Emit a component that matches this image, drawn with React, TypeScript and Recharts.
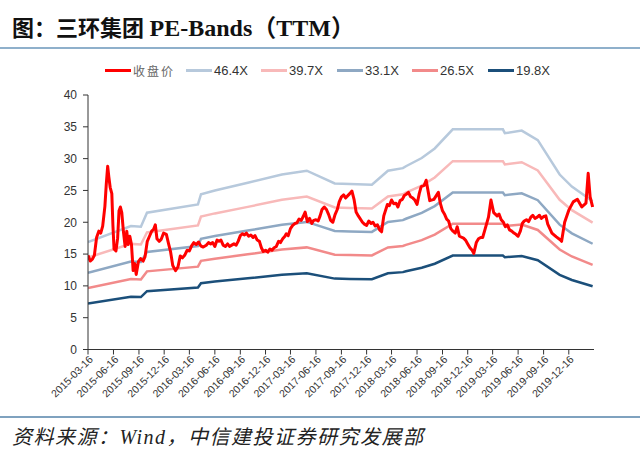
import React from 'react';
import { LineChart, Line, XAxis, YAxis } from 'recharts';

// ---- Data: closing price (收盘价) ----
const closeDates = [
  '2015-03-16','2015-03-24','2015-04-01','2015-04-08','2015-04-16','2015-04-24','2015-05-01','2015-05-08','2015-05-16','2015-05-21',
  '2015-05-26','2015-05-30','2015-06-04','2015-06-10','2015-06-14','2015-06-18','2015-06-25','2015-07-01','2015-07-06','2015-07-11',
  '2015-07-16','2015-07-22','2015-07-28','2015-08-03','2015-08-08','2015-08-14','2015-08-20','2015-08-26','2015-09-01','2015-09-06',
  '2015-09-14','2015-09-22','2015-10-01','2015-10-08','2015-10-16','2015-10-24','2015-11-01','2015-11-08','2015-11-14','2015-11-20',
  '2015-11-28','2015-12-05','2015-12-14','2015-12-24','2016-01-01','2016-01-08','2016-01-16','2016-01-26','2016-02-04','2016-02-12',
  '2016-02-20','2016-02-28','2016-03-08','2016-03-16','2016-03-24','2016-04-01','2016-04-10','2016-04-18','2016-04-26','2016-05-05',
  '2016-05-16','2016-05-24','2016-06-01','2016-06-08','2016-06-16','2016-06-24','2016-07-01','2016-07-08','2016-07-16','2016-07-24',
  '2016-08-01','2016-08-08','2016-08-16','2016-08-24','2016-09-01','2016-09-08','2016-09-16','2016-09-24','2016-10-01','2016-10-08',
  '2016-10-16','2016-10-24','2016-11-01','2016-11-08','2016-11-16','2016-11-24','2016-12-01','2016-12-08','2016-12-16','2016-12-24',
  '2017-01-01','2017-01-08','2017-01-16','2017-01-24','2017-02-01','2017-02-08','2017-02-16','2017-02-24','2017-03-01','2017-03-08',
  '2017-03-16','2017-03-24','2017-04-01','2017-04-08','2017-04-16','2017-04-24','2017-05-01','2017-05-08','2017-05-16','2017-05-24',
  '2017-06-01','2017-06-08','2017-06-16','2017-06-24','2017-07-01','2017-07-08','2017-07-16','2017-07-24','2017-08-01','2017-08-08',
  '2017-08-16','2017-08-24','2017-09-01','2017-09-08','2017-09-16','2017-09-24','2017-10-01','2017-10-16','2017-10-24','2017-11-01',
  '2017-11-08','2017-11-16','2017-12-01','2017-12-08','2017-12-16','2017-12-24','2018-01-01','2018-01-08','2018-01-16','2018-01-24',
  '2018-02-01','2018-02-08','2018-02-16','2018-03-01','2018-03-08','2018-03-16','2018-03-24','2018-04-01','2018-04-08','2018-04-16',
  '2018-04-24','2018-05-01','2018-05-08','2018-05-16','2018-05-24','2018-06-01','2018-06-08','2018-06-16','2018-06-24','2018-07-01',
  '2018-07-12','2018-07-19','2018-08-01','2018-08-16','2018-09-01','2018-09-08','2018-09-16','2018-09-24','2018-10-01','2018-10-08',
  '2018-10-16','2018-10-24','2018-11-01','2018-11-08','2018-11-16','2018-12-01','2018-12-08','2018-12-16','2018-12-24','2019-01-01',
  '2019-01-07','2019-01-16','2019-01-24','2019-02-01','2019-02-08','2019-02-16','2019-03-01','2019-03-10','2019-03-20','2019-04-01',
  '2019-04-08','2019-04-16','2019-04-24','2019-05-01','2019-05-08','2019-05-16','2019-05-24','2019-06-01','2019-06-08','2019-06-16',
  '2019-06-24','2019-07-01','2019-07-08','2019-07-16','2019-07-24','2019-08-01','2019-08-08','2019-08-16','2019-08-24','2019-09-01',
  '2019-09-08','2019-09-16','2019-09-24','2019-10-01','2019-10-16','2019-11-01','2019-11-16','2019-11-20','2019-12-01','2019-12-16',
  '2020-01-01','2020-01-16','2020-02-01','2020-02-16','2020-02-24','2020-03-02','2020-03-11',
];
const closeValues = [
  14.8, 13.9, 14.2, 14.8, 17.6, 18.6, 18.3, 19.4, 22.5, 26.0,
  28.8, 27.2, 25.5, 24.5, 19.5, 15.8, 15.5, 17.5, 21.8, 22.4,
  21.5, 18.5, 16.2, 18.6, 16.5, 17.8, 16.5, 12.4, 13.5, 11.8,
  13.8, 14.3, 13.9, 14.6, 17.0, 17.8, 18.6, 18.9, 19.6, 17.4,
  17.0, 17.3, 18.3, 18.1, 16.6, 15.4, 13.2, 12.4, 13.0, 14.7,
  14.4, 14.8, 15.6, 15.5, 16.3, 16.8, 16.5, 16.9, 16.3, 16.1,
  16.4, 16.8, 16.6, 16.8, 16.2, 17.2, 17.0, 17.2, 16.4, 16.2,
  16.6, 16.2, 16.4, 16.6, 16.4, 17.0, 17.9, 18.2, 18.0, 18.3,
  17.8, 18.0, 17.6, 17.9, 17.2, 17.0, 16.0, 15.4, 15.6, 15.3,
  15.8, 15.6, 16.0, 16.2, 17.0, 16.8, 17.4, 17.8, 18.2, 17.9,
  19.0, 19.5, 19.8, 19.9, 20.5, 20.3, 20.9, 21.6, 20.1, 20.6,
  19.8, 20.3, 20.4, 20.2, 21.0, 22.0, 22.4, 22.0, 21.2, 20.3,
  20.0, 21.2, 22.0, 23.2, 24.0, 24.3, 23.8, 24.5, 24.9, 23.5,
  21.6, 21.0, 20.0, 19.7, 19.5, 20.2, 19.8, 20.0, 19.4, 19.6,
  18.8, 18.5, 21.0, 22.8, 22.6, 23.5, 22.9, 23.0, 22.4, 23.4,
  23.6, 24.2, 24.4, 24.7, 24.0, 23.8, 23.5, 22.8, 24.5, 25.6,
  25.8, 26.6, 23.4, 23.6, 24.7, 23.0, 21.8, 21.2, 20.5, 20.2,
  19.0, 18.6, 18.3, 19.3, 17.8, 17.5, 17.2, 16.6, 16.0, 15.6,
  15.1, 16.8, 17.4, 17.6, 17.6, 18.8, 20.8, 23.5, 21.5, 21.0,
  21.3, 20.4, 20.0, 19.3, 19.6, 18.8, 18.6, 18.3, 18.1, 17.8,
  18.6, 19.8, 20.2, 20.4, 20.1, 20.8, 21.1, 20.6, 20.8, 21.1,
  20.6, 20.9, 21.0, 19.7, 18.3, 17.7, 17.2, 17.0, 20.0, 21.9,
  23.2, 23.6, 22.4, 23.0, 27.7, 24.0, 22.4,
];

// ---- Data: PE bands ----
const bandDates = [
  '2015-03-16','2015-08-18','2015-09-23','2015-10-15','2016-04-16','2016-04-27','2016-06-16','2016-10-13','2017-02-13','2017-05-14',
  '2017-08-23','2017-10-17','2018-01-04','2018-03-03','2018-04-26','2018-05-07','2018-07-03','2018-08-19','2018-10-23','2019-04-22',
  '2019-04-29','2019-06-29','2019-08-26','2019-11-13','2019-12-27','2020-03-11',
];
const band464 = [16.9, 19.4, 19.3, 21.5, 22.8, 24.4, 25.0, 26.2, 27.5, 28.1, 26.1, 26.0, 25.9, 28.1, 28.5, 28.8, 30.1, 31.6, 34.6, 34.6, 34.0, 34.4, 32.9, 27.5, 25.6, 23.3];
const band397 = [14.46, 16.60, 16.51, 18.40, 19.51, 20.88, 21.39, 22.42, 23.53, 24.04, 22.33, 22.25, 22.16, 24.04, 24.39, 24.64, 25.75, 27.04, 29.60, 29.60, 29.09, 29.43, 28.15, 23.53, 21.90, 19.94];
const band331 = [12.06, 13.84, 13.77, 15.34, 16.27, 17.41, 17.83, 18.69, 19.62, 20.05, 18.62, 18.55, 18.48, 20.05, 20.33, 20.55, 21.47, 22.54, 24.68, 24.68, 24.26, 24.54, 23.47, 19.62, 18.26, 16.62];
const band265 = [9.65, 11.08, 11.02, 12.28, 13.02, 13.94, 14.28, 14.96, 15.71, 16.05, 14.91, 14.85, 14.79, 16.05, 16.28, 16.45, 17.19, 18.05, 19.76, 19.76, 19.42, 19.65, 18.79, 15.71, 14.62, 13.31];
const band198 = [7.21, 8.28, 8.24, 9.17, 9.73, 10.41, 10.67, 11.18, 11.73, 11.99, 11.14, 11.09, 11.05, 11.99, 12.16, 12.29, 12.84, 13.48, 14.76, 14.76, 14.51, 14.68, 14.04, 11.73, 10.92, 9.94];

const tickLabels = [
  '2015-03-16','2015-06-16','2015-09-16','2015-12-16','2016-03-16','2016-06-16','2016-09-16','2016-12-16',
  '2017-03-16','2017-06-16','2017-09-16','2017-12-16','2018-03-16','2018-06-16','2018-09-16','2018-12-16',
  '2019-03-16','2019-06-16','2019-09-16','2019-12-16',
];
const yTicks = [0, 5, 10, 15, 20, 25, 30, 35, 40];
const domainStart = '2015-03-16';
const domainEnd = '2020-03-16';

const seriesInfo = [
  { key: 'close', name: '收盘价', color: '#ff0000' },
  { key: 'b464', name: '46.4X', color: '#b7c9dc' },
  { key: 'b397', name: '39.7X', color: '#f8b9b9' },
  { key: 'b331', name: '33.1X', color: '#8ea8c3' },
  { key: 'b265', name: '26.5X', color: '#f28a8a' },
  { key: 'b198', name: '19.8X', color: '#1b4f7a' },
];

// ---- build table ----
function buildTable() {
  const map = new Map<number, any>();
  const put = (d: string, k: string, v: number) => {
    const t = Date.parse(d);
    if (!map.has(t)) map.set(t, { t });
    map.get(t)[k] = v;
  };
  closeDates.forEach((d, i) => put(d, 'close', closeValues[i]));
  bandDates.forEach((d, i) => {
    put(d, 'b464', band464[i]);
    put(d, 'b397', band397[i]);
    put(d, 'b331', band331[i]);
    put(d, 'b265', band265[i]);
    put(d, 'b198', band198[i]);
  });
  return Array.from(map.values()).sort((a, b) => a.t - b.t);
}
const table = buildTable();

const XTick = (props: any) => {
  const { x, y, payload } = props;
  const label = new Date(payload.value).toISOString().slice(0, 10);
  return (
    <g transform={`translate(${x + 3},${y + 1})`}>
      <text x={0} y={0} dy="0.35em" textAnchor="end" transform="rotate(-45)"
        fontSize={10.5} fill="#333" fontFamily="'Liberation Sans', Arial, sans-serif">{label}</text>
    </g>
  );
};

const legendLefts = [105, 186, 261, 337, 412, 488];

export default function App() {
  return (
    <div style={{ position: 'absolute', left: 0, top: 0, width: 640, height: 470, background: '#fff', overflow: 'hidden' }}>
      <div style={{ position: 'absolute', left: 12, top: 12, lineHeight: '32px', fontSize: 22, fontWeight: 700,
        fontFamily: "'Liberation Serif', 'Noto Sans CJK SC', serif", color: '#111', whiteSpace: 'nowrap' }}>
        图：三环集团 <span style={{ fontSize: 24 }}>PE-Bands（TTM）</span>
      </div>
      <div style={{ position: 'absolute', left: 0, top: 47, width: 640, height: 2, background: '#8fb0cb' }} />

      {seriesInfo.map((s, i) => (
        <div key={s.key} style={{ position: 'absolute', left: legendLefts[i], top: 62, height: 16, display: 'flex', alignItems: 'center', whiteSpace: 'nowrap' }}>
          <div style={{ width: 26, height: 3, background: s.color }} />
          <span style={{
            marginLeft: 2,
            fontSize: i === 0 ? 12 : 13,
            letterSpacing: i === 0 ? 2 : 0,
            color: i === 0 ? '#666' : '#333',
            fontFamily: i === 0 ? "'Noto Sans CJK SC', sans-serif" : "'Liberation Sans', Arial, sans-serif",
          }}>{s.name}</span>
        </div>
      ))}

      <div style={{ position: 'absolute', left: 0, top: 0 }}>
        <LineChart width={640} height={470} data={table} margin={{ top: 95, right: 46, bottom: 0, left: 0 }}>
          <XAxis dataKey="t" type="number" domain={[Date.parse(domainStart), Date.parse(domainEnd)]}
            ticks={tickLabels.map((d) => Date.parse(d))} tick={<XTick />} interval={0}
            height={120.5} tickSize={5} tickMargin={2}
            axisLine={{ stroke: '#333' }} tickLine={{ stroke: '#333' }} allowDataOverflow />
          <YAxis domain={[0, 40]} ticks={yTicks} width={88} tickSize={5} tickMargin={6} interval={0}
            axisLine={{ stroke: '#333' }} tickLine={{ stroke: '#333' }}
            tick={{ fontSize: 12, fill: '#333', fontFamily: "'Liberation Sans', Arial, sans-serif" }} />
          {seriesInfo.slice(1).map((s) => (
            <Line key={s.key} type="linear" dataKey={s.key} stroke={s.color} strokeWidth={2.5}
              dot={false} connectNulls isAnimationActive={false} />
          ))}
          <Line type="linear" dataKey="close" stroke="#ff0000" strokeWidth={3} strokeLinejoin="round"
            dot={false} connectNulls isAnimationActive={false} />
        </LineChart>
      </div>

      <div style={{ position: 'absolute', left: 0, top: 416, width: 640, height: 2, background: '#7fa2bf' }} />
      <div style={{ position: 'absolute', left: 12, top: 424, lineHeight: '26px', fontSize: 20, fontStyle: 'italic', letterSpacing: 1.5,
        fontFamily: "'Liberation Serif', 'Noto Sans CJK SC', serif", color: '#222', whiteSpace: 'nowrap' }}>
        资料来源：Wind，中信建投证券研究发展部
      </div>
    </div>
  );
}
